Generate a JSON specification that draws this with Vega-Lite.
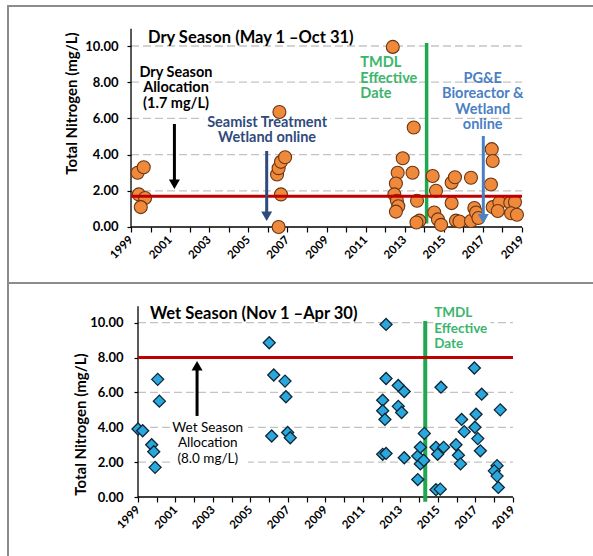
{
  "$schema": "https://vega.github.io/schema/vega-lite/v6.json",
  "padding": {"left": 7, "top": 5, "right": 0, "bottom": 0},
  "background": "white",
  "spacing": 0,
  "bounds": "flush",
  "config": {"font": "Lato", "view": {"fill": "white"}},
  "datasets": {
    "dry": [
      {"year": 1999.34, "value": 3.0}, {"year": 1999.65, "value": 3.3}, {"year": 1999.4, "value": 1.8},
      {"year": 1999.72, "value": 1.6}, {"year": 1999.5, "value": 1.1},
      {"year": 2006.59, "value": 6.35}, {"year": 2006.47, "value": 2.9}, {"year": 2006.55, "value": 3.25},
      {"year": 2006.67, "value": 3.6}, {"year": 2006.88, "value": 3.85}, {"year": 2006.67, "value": 1.8},
      {"year": 2006.55, "value": 0.0},
      {"year": 2012.39, "value": 9.95}, {"year": 2013.46, "value": 5.5}, {"year": 2012.9, "value": 3.8},
      {"year": 2012.64, "value": 3.0}, {"year": 2013.4, "value": 3.0}, {"year": 2012.55, "value": 2.4},
      {"year": 2012.47, "value": 1.8}, {"year": 2012.6, "value": 1.45}, {"year": 2012.67, "value": 1.15},
      {"year": 2012.55, "value": 0.85}, {"year": 2013.63, "value": 1.45}, {"year": 2013.75, "value": 0.35},
      {"year": 2013.6, "value": 0.25},
      {"year": 2014.43, "value": 2.82}, {"year": 2014.6, "value": 2.0}, {"year": 2014.51, "value": 0.8},
      {"year": 2014.7, "value": 0.42}, {"year": 2014.86, "value": 0.12},
      {"year": 2015.4, "value": 2.45}, {"year": 2015.57, "value": 2.75}, {"year": 2016.39, "value": 2.72},
      {"year": 2015.4, "value": 1.32}, {"year": 2015.62, "value": 0.35}, {"year": 2015.8, "value": 0.3},
      {"year": 2016.39, "value": 0.33}, {"year": 2016.56, "value": 1.05}, {"year": 2016.65, "value": 0.8},
      {"year": 2016.77, "value": 0.5},
      {"year": 2017.45, "value": 4.3}, {"year": 2017.5, "value": 3.65}, {"year": 2017.41, "value": 2.35},
      {"year": 2017.5, "value": 1.1}, {"year": 2017.84, "value": 1.35}, {"year": 2017.76, "value": 0.88},
      {"year": 2018.4, "value": 1.34}, {"year": 2018.64, "value": 1.38}, {"year": 2018.44, "value": 0.76},
      {"year": 2018.74, "value": 0.68}
    ],
    "wet": [
      {"year": 1999.0, "value": 3.9}, {"year": 1999.25, "value": 3.8}, {"year": 1999.73, "value": 3.0},
      {"year": 1999.84, "value": 2.6}, {"year": 1999.91, "value": 1.7}, {"year": 2000.05, "value": 6.75},
      {"year": 2000.14, "value": 5.5},
      {"year": 2006.0, "value": 8.85}, {"year": 2006.24, "value": 7.0}, {"year": 2006.84, "value": 6.65},
      {"year": 2006.89, "value": 5.75}, {"year": 2006.13, "value": 3.5}, {"year": 2006.98, "value": 3.7},
      {"year": 2007.12, "value": 3.4},
      {"year": 2012.23, "value": 9.9}, {"year": 2012.23, "value": 6.8}, {"year": 2012.88, "value": 6.4},
      {"year": 2013.2, "value": 6.05}, {"year": 2012.05, "value": 5.55}, {"year": 2012.05, "value": 4.95},
      {"year": 2012.17, "value": 4.45}, {"year": 2012.88, "value": 5.2}, {"year": 2013.06, "value": 4.85},
      {"year": 2012.05, "value": 2.45}, {"year": 2012.23, "value": 2.5}, {"year": 2013.2, "value": 2.25},
      {"year": 2013.92, "value": 2.35}, {"year": 2014.06, "value": 2.85}, {"year": 2014.06, "value": 1.9},
      {"year": 2013.92, "value": 1.0}, {"year": 2014.27, "value": 3.65}, {"year": 2014.24, "value": 2.1},
      {"year": 2014.89, "value": 2.85}, {"year": 2014.98, "value": 2.45}, {"year": 2015.3, "value": 2.85},
      {"year": 2015.16, "value": 6.3}, {"year": 2014.89, "value": 0.42}, {"year": 2015.12, "value": 0.45},
      {"year": 2015.96, "value": 3.0}, {"year": 2016.09, "value": 2.4}, {"year": 2016.2, "value": 1.9},
      {"year": 2016.26, "value": 4.45}, {"year": 2016.4, "value": 3.75}, {"year": 2016.94, "value": 7.4},
      {"year": 2017.33, "value": 5.9}, {"year": 2017.03, "value": 4.75}, {"year": 2016.97, "value": 4.0},
      {"year": 2017.12, "value": 3.35}, {"year": 2017.26, "value": 2.65}, {"year": 2018.32, "value": 5.0},
      {"year": 2018.15, "value": 1.8}, {"year": 2018.0, "value": 1.5}, {"year": 2018.15, "value": 1.2},
      {"year": 2018.22, "value": 0.55}
    ],
    "grid": [
      {"year": 1999, "year2": 2019, "value": 2}, {"year": 1999, "year2": 2019, "value": 4},
      {"year": 1999, "year2": 2019, "value": 6}, {"year": 1999, "year2": 2019, "value": 8},
      {"year": 1999, "year2": 2019, "value": 10}
    ],
    "axisLines": [
      {"year": 1999, "year2": 2019, "value": 0, "value2": 0},
      {"year": 1999, "year2": 1999, "value": 0, "value2": 10.95}
    ]
  },
  "vconcat": [
    {
      "width": 586,
      "height": 277,
      "view": {"stroke": "#8c8c8c", "strokeWidth": 2, "strokeDash": [586, 863, 277], "fill": "white"},
      "encoding": {
        "x": {
          "field": "year", "type": "quantitative",
          "scale": {"domain": [1992.708, 2022.682], "nice": false, "zero": false},
          "axis": {
            "values": [1999, 2000, 2001, 2002, 2003, 2004, 2005, 2006, 2007, 2008, 2009, 2010, 2011, 2012, 2013, 2014, 2015, 2016, 2017, 2018, 2019],
            "format": "d", "labelExpr": "datum.value % 2 == 1 ? datum.label : ''",
            "labelAngle": -45, "labelAlign": "right", "labelBaseline": "middle",
            "labelFontSize": 11.5, "labelFontWeight": "bold", "labelColor": "#000",
            "labelPadding": 6, "labelOverlap": false, "labelFlush": false, "labelBound": false,
            "tickSize": 5, "tickColor": "#000", "tickWidth": 1.2,
            "domain": false, "grid": false, "offset": -56, "title": null
          }
        },
        "y": {
          "field": "value", "type": "quantitative",
          "scale": {"domain": [-3.094, 12.21], "nice": false, "zero": false},
          "axis": {
            "values": [0, 2, 4, 6, 8, 10], "format": ".2f",
            "labelFontSize": 13, "labelFontWeight": "bold", "labelColor": "#000", "labelPadding": 9,
            "tickSize": 4, "tickColor": "#000", "tickWidth": 1.2,
            "domain": false, "grid": false, "offset": -123,
            "title": "Total Nitrogen (mg/L)", "titleFontSize": 15, "titleFontWeight": "bold", "titleColor": "#000",
            "titleX": -60, "titleY": 97, "titleAngle": 270, "titleAlign": "center", "titleBaseline": "middle"
          }
        }
      },
      "layer": [
        {"data": {"name": "grid"}, "mark": {"type": "rule", "color": "#c3c3c3", "strokeWidth": 1.3, "strokeDash": [8, 4]}, "encoding": {"x2": {"field": "year2"}}},
        {"data": {"name": "axisLines"}, "mark": {"type": "rule", "color": "#000", "strokeWidth": 1.3}, "encoding": {"x2": {"field": "year2"}, "y2": {"field": "value2"}}},
        {
          "data": {"values": [
            {"year": 1999.55, "year2": 2003.0, "value": 6.4, "value2": 8.95},
            {"year": 2002.7, "year2": 2009.2, "value": 4.5, "value2": 6.2}
          ]},
          "mark": {"type": "rect", "color": "white"},
          "encoding": {"x2": {"field": "year2"}, "y2": {"field": "value2"}}
        },
        {"data": {"values": [{"year": 2014.12, "value": 0.2, "value2": 10.17}]}, "mark": {"type": "rule", "color": "#1fa84f", "strokeWidth": 3.5}, "encoding": {"y2": {"field": "value2"}}},
        {"data": {"name": "dry"}, "mark": {"type": "point", "shape": "circle", "filled": true, "fill": "#ef8a3c", "stroke": "#6b3512", "strokeWidth": 1.1, "size": 169, "opacity": 1}},
        {"data": {"values": [{"year": 1999, "year2": 2019, "value": 1.7}]}, "mark": {"type": "rule", "color": "#c00000", "strokeWidth": 3}, "encoding": {"x2": {"field": "year2"}}},
        {
          "data": {"values": [
            {"year": 2001.22, "value": 5.69, "value2": 2.4, "head": 2.36, "kind": "allocation"},
            {"year": 2005.94, "value": 4.2, "value2": 0.65, "head": 0.6, "kind": "seamist"},
            {"year": 2017.02, "value": 5.03, "value2": 0.5, "head": 0.45, "kind": "pge"}
          ]},
          "layer": [
            {"mark": {"type": "rule", "strokeWidth": 3}, "encoding": {"y2": {"field": "value2"}, "color": {"field": "kind", "type": "nominal", "scale": {"domain": ["allocation", "seamist", "pge"], "range": ["#000000", "#2f4b7c", "#4a80c4"]}, "legend": null}}},
            {"mark": {"type": "point", "shape": "triangle-down", "filled": true, "size": 121, "opacity": 1}, "encoding": {"y": {"field": "head", "type": "quantitative"}, "color": {"field": "kind", "type": "nominal", "scale": {"domain": ["allocation", "seamist", "pge"], "range": ["#000000", "#2f4b7c", "#4a80c4"]}, "legend": null}}}
          ]
        },
        {
          "data": {"values": [{"year": 1999.87, "value": 10.44, "text": "Dry Season (May 1 –Oct 31)"}]},
          "mark": {"type": "text", "fontSize": 16.5, "fontWeight": "bold", "align": "left", "baseline": "middle", "color": "#000"},
          "encoding": {"text": {"field": "text"}}
        },
        {
          "data": {"values": [
            {"year": 2001.3, "value": 8.51, "kind": "allocation", "text": "Dry Season\nAllocation\n(1.7 mg/L)"},
            {"year": 2005.96, "value": 5.75, "kind": "seamist", "text": "Seamist Treatment\nWetland online"},
            {"year": 2016.99, "value": 8.18, "kind": "pge", "text": "PG&E\nBioreactor &\nWetland\nonline"}
          ]},
          "mark": {"type": "text", "fontSize": 14.5, "fontWeight": "bold", "lineBreak": "\n", "lineHeight": 15.5, "align": "center", "baseline": "middle"},
          "encoding": {"text": {"field": "text"}, "color": {"field": "kind", "type": "nominal", "scale": {"domain": ["allocation", "seamist", "pge"], "range": ["#000000", "#2f4b7c", "#7aa3d6"]}, "legend": null}}
        },
        {
          "data": {"values": [{"year": 2010.73, "value": 9.06, "text": "TMDL\nEffective\nDate"}]},
          "mark": {"type": "text", "fontSize": 14.5, "fontWeight": "bold", "lineBreak": "\n", "lineHeight": 15.5, "align": "left", "baseline": "middle", "color": "#3bb56c"},
          "encoding": {"text": {"field": "text"}}
        }
      ]
    },
    {
      "width": 586,
      "height": 274,
      "view": {"stroke": "#8c8c8c", "strokeWidth": 2, "strokeDash": [586, 860, 274], "fill": "white"},
      "encoding": {
        "x": {
          "field": "year", "type": "quantitative",
          "scale": {"domain": [1992.067, 2023.32], "nice": false, "zero": false},
          "axis": {
            "values": [1999, 2000, 2001, 2002, 2003, 2004, 2005, 2006, 2007, 2008, 2009, 2010, 2011, 2012, 2013, 2014, 2015, 2016, 2017, 2018, 2019],
            "format": "d", "labelExpr": "datum.value % 2 == 1 ? datum.label : ''",
            "labelAngle": -45, "labelAlign": "right", "labelBaseline": "middle",
            "labelFontSize": 11.5, "labelFontWeight": "bold", "labelColor": "#000",
            "labelPadding": 6, "labelOverlap": false, "labelFlush": false, "labelBound": false,
            "tickSize": 5, "tickColor": "#000", "tickWidth": 1.2,
            "domain": false, "grid": false, "offset": -60, "title": null
          }
        },
        "y": {
          "field": "value", "type": "quantitative",
          "scale": {"domain": [-3.442, 12.278], "nice": false, "zero": false},
          "axis": {
            "values": [0, 2, 4, 6, 8, 10], "format": ".2f",
            "labelFontSize": 13, "labelFontWeight": "bold", "labelColor": "#000", "labelPadding": 11,
            "tickSize": 4, "tickColor": "#000", "tickWidth": 1.2,
            "domain": false, "grid": false, "offset": -130,
            "title": "Total Nitrogen (mg/L)", "titleFontSize": 15, "titleFontWeight": "bold", "titleColor": "#000",
            "titleX": -58, "titleY": 141, "titleAngle": 270, "titleAlign": "center", "titleBaseline": "middle"
          }
        }
      },
      "layer": [
        {"data": {"name": "grid"}, "mark": {"type": "rule", "color": "#c3c3c3", "strokeWidth": 1.3, "strokeDash": [8, 4]}, "encoding": {"x2": {"field": "year2"}}},
        {"data": {"name": "axisLines"}, "mark": {"type": "rule", "color": "#000", "strokeWidth": 1.3}, "encoding": {"x2": {"field": "year2"}, "y2": {"field": "value2"}}},
        {
          "data": {"values": [
            {"year": 2000.87, "year2": 2004.87, "value": 1.75, "value2": 4.25},
            {"year": 2014.75, "year2": 2017.8, "value": 9.1, "value2": 10.95}
          ]},
          "mark": {"type": "rect", "color": "white"},
          "encoding": {"x2": {"field": "year2"}, "y2": {"field": "value2"}}
        },
        {"data": {"values": [{"year": 2014.32, "value": -0.27, "value2": 10.1}]}, "mark": {"type": "rule", "color": "#1fa84f", "strokeWidth": 4}, "encoding": {"y2": {"field": "value2"}}},
        {"data": {"name": "wet"}, "mark": {"type": "point", "shape": "diamond", "filled": true, "fill": "#2aa7dc", "stroke": "#0f2636", "strokeWidth": 1.3, "size": 144, "opacity": 1}},
        {"data": {"values": [{"year": 1999, "year2": 2019, "value": 8.0}]}, "mark": {"type": "rule", "color": "#c00000", "strokeWidth": 3}, "encoding": {"x2": {"field": "year2"}}},
        {
          "data": {"values": [{"year": 2002.15, "value": 4.65, "value2": 7.5, "head": 7.53}]},
          "layer": [
            {"mark": {"type": "rule", "strokeWidth": 3, "color": "#000"}, "encoding": {"y2": {"field": "value2"}}},
            {"mark": {"type": "point", "shape": "triangle-up", "filled": true, "size": 121, "opacity": 1, "color": "#000"}, "encoding": {"y": {"field": "head", "type": "quantitative"}}}
          ]
        },
        {
          "data": {"values": [{"year": 1999.64, "value": 10.48, "text": "Wet Season (Nov 1 –Apr 30)"}]},
          "mark": {"type": "text", "fontSize": 16.5, "fontWeight": "bold", "align": "left", "baseline": "middle", "color": "#000"},
          "encoding": {"text": {"field": "text"}}
        },
        {
          "data": {"values": [{"year": 2002.72, "value": 3.96, "text": "Wet Season\nAllocation\n(8.0 mg/L)"}]},
          "mark": {"type": "text", "fontSize": 13.5, "fontWeight": "normal", "lineBreak": "\n", "lineHeight": 15.5, "align": "center", "baseline": "middle", "color": "#000"},
          "encoding": {"text": {"field": "text"}}
        },
        {
          "data": {"values": [{"year": 2014.8, "value": 10.53, "text": "TMDL\nEffective\nDate"}]},
          "mark": {"type": "text", "fontSize": 13.5, "fontWeight": "bold", "lineBreak": "\n", "lineHeight": 15.5, "align": "left", "baseline": "middle", "color": "#3bb56c"},
          "encoding": {"text": {"field": "text"}}
        }
      ]
    }
  ]
}
